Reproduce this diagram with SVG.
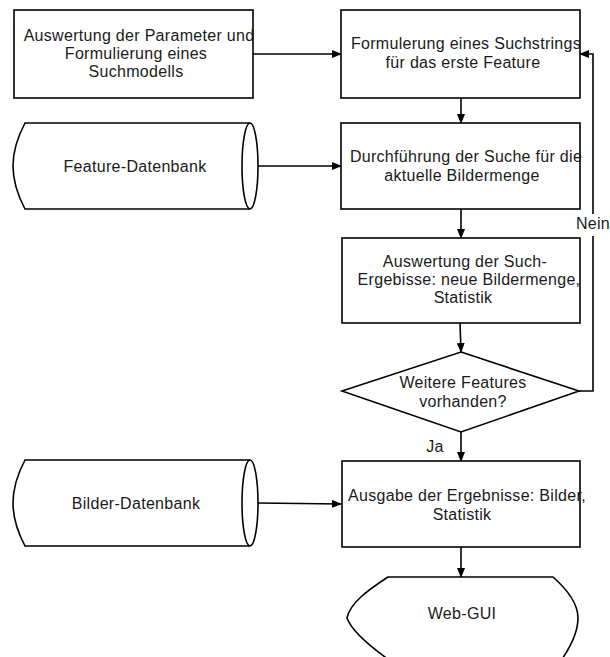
<svg xmlns="http://www.w3.org/2000/svg" width="610" height="657" viewBox="0 0 610 657">
  <style>
    .shape { fill: #ffffff; stroke: #000000; stroke-width: 1.6; }
    .edge { fill: none; stroke: #000000; stroke-width: 1.6; }
    text { font-family: "Liberation Sans", Arial, sans-serif; font-size: 16px; letter-spacing: 0.3px; fill: #1a1a1a; text-anchor: middle; }
  </style>
  <defs>
    <marker id="arrow" markerUnits="userSpaceOnUse" markerWidth="10" markerHeight="8" refX="9" refY="4" orient="auto">
      <path d="M0,0 L10,4 L0,8 Z" fill="#000000"/>
    </marker>
  </defs>
  <rect width="610" height="657" fill="#ffffff"/>

  <!-- connectors -->
  <g id="connectors">
    <path class="edge" d="M253,54 L341,54" marker-end="url(#arrow)"/>
    <path class="edge" d="M461,98 L461,123" marker-end="url(#arrow)"/>
    <path class="edge" d="M258,166 L341,166" marker-end="url(#arrow)"/>
    <path class="edge" d="M461,209 L461,238" marker-end="url(#arrow)"/>
    <path class="edge" d="M460,323 L461,352" marker-end="url(#arrow)"/>
    <path class="edge" d="M579,391 L593,391 L593,54 L580,54" marker-end="url(#arrow)"/>
    <path class="edge" d="M461,432 L461,461" marker-end="url(#arrow)"/>
    <path class="edge" d="M258,503 L341,504" marker-end="url(#arrow)"/>
    <path class="edge" d="M461,547 L461,577" marker-end="url(#arrow)"/>
    <rect x="577" y="214" width="33" height="22" fill="#ffffff"/>
    <text x="593" y="229">Nein</text>
    <text x="435" y="452">Ja</text>
  </g>

  <g id="parameter-auswertung">
    <rect class="shape" x="14" y="10" width="239" height="88"/>
    <text x="139" y="41">Auswertung der Parameter und</text>
    <text x="136" y="59">Formulierung eines</text>
    <text x="136" y="77">Suchmodells</text>
  </g>

  <g id="suchstring">
    <rect class="shape" x="341" y="10" width="239" height="88"/>
    <text x="466" y="49">Formulerung eines Suchstrings</text>
    <text x="463" y="68">für das erste Feature</text>
  </g>

  <g id="feature-datenbank">
    <path class="shape" d="M25,123 L250,123 A8,43 0 0 1 250,209 L25,209 C16,192 13,178 13,166 C13,154 16,140 25,123 Z"/>
    <path class="edge" d="M250,123 A8,43 0 0 0 250,209"/>
    <text x="135" y="172">Feature-Datenbank</text>
  </g>

  <g id="suche">
    <rect class="shape" x="341" y="123" width="239" height="86"/>
    <text x="466" y="162">Durchführung der Suche für die</text>
    <text x="462" y="181">aktuelle Bildermenge</text>
  </g>

  <g id="ergebnis-auswertung">
    <rect class="shape" x="342" y="238" width="238" height="85"/>
    <text x="465" y="267">Auswertung der Such-</text>
    <text x="469" y="285">Ergebisse: neue Bildermenge,</text>
    <text x="463" y="303">Statistik</text>
  </g>

  <g id="weitere-features">
    <path class="shape" d="M461,352 L579,391 L461,432 L342,391 Z"/>
    <text x="463" y="388">Weitere Features</text>
    <text x="463" y="407">vorhanden?</text>
  </g>

  <g id="bilder-datenbank">
    <path class="shape" d="M25,460 L250,460 A8,43 0 0 1 250,546 L25,546 C16,529 13,515 13,503 C13,491 16,477 25,460 Z"/>
    <path class="edge" d="M250,460 A8,43 0 0 0 250,546"/>
    <text x="136" y="509">Bilder-Datenbank</text>
  </g>

  <g id="ausgabe">
    <rect class="shape" x="342" y="461" width="238" height="86"/>
    <text x="467" y="501">Ausgabe der Ergebnisse: Bilder,</text>
    <text x="462" y="520">Statistik</text>
  </g>

  <g id="web-gui">
    <path class="shape" d="M388,577 L553,577 C570,592 578,605 578,618 C578,632 570,648 560,662 L392,662 C372,648 352,632 347,618 C350,603 368,590 388,577 Z"/>
    <text x="462" y="619">Web-GUI</text>
  </g>
</svg>
